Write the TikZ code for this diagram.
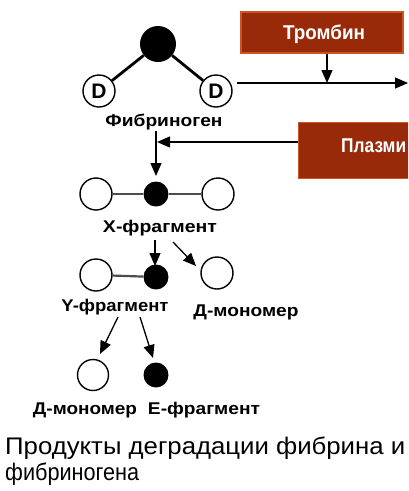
\documentclass[tikz,border=0pt]{standalone}
\usepackage{fontspec}
\setmainfont{Liberation Sans}
\usepackage{graphicx}
\usetikzlibrary{arrows.meta}
\definecolor{brick}{RGB}{152,42,10}
\definecolor{brickedge}{RGB}{205,85,35}
\newcommand\wfit[2]{\resizebox{#1}{\height}{#2}}
\begin{document}
\begin{tikzpicture}[x=1pt,y=-1pt,
  opencirc/.style={circle,draw=black,line width=1.4pt,fill=white,minimum size=32pt,inner sep=0pt},
  fullcirc/.style={circle,fill=black,minimum size=25pt,inner sep=0pt},
  lbl/.style={inner sep=0pt,font=\bfseries\fontsize{17}{17}\selectfont},
  enz/.style={fill=brick,draw=brickedge,line width=1.2pt},
  enztext/.style={inner sep=0pt,text=white,font=\bfseries\fontsize{20}{20}\selectfont},
  arr/.style={-{Triangle[length=13pt,width=11pt]},line width=1.3pt},
  bond/.style={line width=2.8pt},
  thinbond/.style={line width=2.2pt,draw=black!70}
]
\useasboundingbox (0,0) rectangle (408,491);
\clip (0,0) rectangle (408,491);
\fill[white] (0,0) rectangle (408,491);

% Fibrinogen
\node[fullcirc,minimum size=36pt] (E0) at (158,44) {};
\node[opencirc,font=\bfseries\fontsize{21}{21}\selectfont] (D1) at (99,91) {D};
\node[opencirc,font=\bfseries\fontsize{21}{21}\selectfont] (D2) at (216,91) {D};
\draw[bond] (E0) -- (D1);
\draw[bond] (E0) -- (D2);
\node[lbl] (fib) at (164,122) {\wfit{117pt}{Фибриноген}};

% Thrombin
\node[enz,minimum width=162pt,minimum height=41pt,inner sep=0pt] (thr) at (322,32.5) {};
\node[enztext] (thrt) at (324,34) {\wfit{82pt}{Тромбин}};
\coordinate (hs) at (237,83);
\coordinate (he) at (408,83);
\coordinate (hm) at (327,83);
\draw[arr] (hs) -- (he);
\draw[arr] (thr.south -| hm) -- (hm);

% Plasmin
\node[enz,minimum width=130pt,minimum height=56pt,inner sep=0pt,anchor=north west] (pla) at (298,122) {};
\node[enztext,anchor=west] (plat) at (341,146) {\wfit{65pt}{Плазми}};
\coordinate (vs) at (156,131);
\coordinate (ve) at (156,176);
\coordinate (pe) at (157,142);
\draw[arr] (vs) -- (ve);
\draw[arr] (pla.west |- pe) -- (pe);

% X fragment
\node[opencirc] (X1) at (96,194) {};
\node[fullcirc] (X2) at (156,194) {};
\node[opencirc] (X3) at (218,194) {};
\draw[thinbond] (X1) -- (X2);
\draw[thinbond] (X2) -- (X3);
\node[lbl] (xl) at (160,228) {\wfit{114pt}{X-фрагмент}};

% Y fragment and D monomer
\node[opencirc] (Y1) at (96,275) {};
\node[fullcirc] (Y2) at (156,277) {};
\draw[thinbond] (Y1) -- (Y2);
\node[opencirc] (DM) at (217,273) {};
\node[lbl] (yl) at (115,307) {\wfit{107pt}{Y-фрагмент}};
\node[lbl] (dml) at (246,312) {\wfit{105pt}{Д-мономер}};
\coordinate (a1s) at (155,240);
\coordinate (a1e) at (155,266);
\coordinate (a2s) at (173,242);
\coordinate (a2e) at (196,266);
\draw[arr] (a1s) -- (a1e);
\draw[arr] (a2s) -- (a2e);

% bottom products
\node[opencirc,minimum size=31pt] (B1) at (93,375) {};
\node[fullcirc] (B2) at (156,375) {};
\coordinate (b1s) at (118,317);
\coordinate (b1e) at (100,354);
\coordinate (b2s) at (140,317);
\coordinate (b2e) at (153,358);
\draw[arr] (b1s) -- (b1e);
\draw[arr] (b2s) -- (b2e);
\node[lbl] (bl1) at (85,410) {\wfit{104pt}{Д-мономер}};
\node[lbl] (bl2) at (204,410) {\wfit{112pt}{Е-фрагмент}};

% caption
\node[inner sep=0pt,anchor=west,font=\fontsize{24}{24}\selectfont] (t1) at (5,448) {\wfit{400pt}{Продукты деградации фибрина и}};
\node[inner sep=0pt,anchor=west,font=\fontsize{24}{24}\selectfont] (t2) at (5,474) {\wfit{134pt}{фибриногена}};
\end{tikzpicture}
\end{document}
